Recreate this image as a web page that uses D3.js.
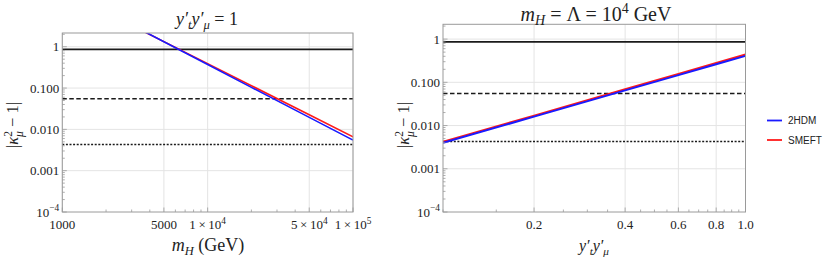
<!DOCTYPE html>
<html><head><meta charset="utf-8">
<script src="https://cdn.jsdelivr.net/npm/d3@7"></script>
<style>
body{margin:0;background:#fff;}
text{font-family:"Liberation Serif","Times New Roman",serif;fill:#222;}
.leg{font-family:"Liberation Sans",Arial,sans-serif;}
</style></head><body>
<svg id="c" width="830" height="262"></svg>
<script>
// ---- data ----
const mH = [3000, 5000, 10000, 20000, 50000, 100000];
const left2HDM  = [3.37, 1.32, 0.37, 0.104, 0.0195, 0.0055];
const leftSMEFT = [3.28, 1.33, 0.39, 0.114, 0.0225, 0.0066];
const yy = [0.1, 0.2, 0.4, 0.6, 0.8, 1.0];
const right2HDM  = [0.0040, 0.0161, 0.065, 0.147, 0.262, 0.41];
const rightSMEFT = [0.0042, 0.0170, 0.069, 0.157, 0.280, 0.44];
const bounds = [0.86, 0.055, 0.0043];   // solid, dashed, dotted
const yTicks = [1, 0.1, 0.01, 0.001, 0.0001];
const yTickLabels = ["1", "0.100", "0.010", "0.001", "10^-4"];
const leftXTicks = [1000, 5000, 10000, 50000, 100000];
const leftXTickLabels = ["1000", "5000", "1\u2009×\u200910^4", "5\u2009×\u200910^4", "1\u2009×\u200910^5"];
const rightXTicks = [0.2, 0.4, 0.6, 0.8, 1.0];
const rightXTickLabels = ["0.2", "0.4", "0.6", "0.8", "1.0"];
const seriesNames = ["2HDM", "SMEFT"];
const seriesColors = ["#1a1aff", "#ff1a1a"];

const svg = d3.select("#c");
const TF = 13;

function addLabel(sel, s, size) {
  const parts = s.split("^");
  sel.append("tspan").text(parts[0]);
  if (parts[1]) sel.append("tspan").attr("dy", -size*0.4).attr("font-size", size*0.72).text(parts[1].replace("-", "−"));
}

function panel(o) {
  const g = svg.append("g");
  const x = d3.scaleLog().domain(o.xDomain).range(o.xRange);
  const y = d3.scaleLog().domain(o.yDomain).range(o.yRange);
  const [x0, x1] = o.xRange, [y0, y1] = o.yRange;
  const cid = "clip" + o.id;
  svg.append("clipPath").attr("id", cid).append("rect")
    .attr("x", x0).attr("y", y1).attr("width", x1 - x0).attr("height", y0 - y1);
  g.selectAll(".gy").data(yTicks.slice(0, 4)).join("line")
    .attr("x1", x0).attr("x2", x1).attr("y1", d => y(d)).attr("y2", d => y(d))
    .attr("stroke", "#e4e4e4").attr("stroke-width", 1);
  g.selectAll(".gx").data(o.xTicks).join("line")
    .attr("x1", d => x(d)).attr("x2", d => x(d)).attr("y1", y1).attr("y2", y0)
    .attr("stroke", "#e4e4e4").attr("stroke-width", 1);
  const dashes = [null, "4.5,2.5", "2,1.6"];
  bounds.forEach((b, i) => {
    g.append("line").attr("x1", x0).attr("x2", x1).attr("y1", y(b)).attr("y2", y(b))
      .attr("stroke", "#1a1a1a").attr("stroke-width", i === 0 ? 1.8 : 1.5)
      .attr("stroke-dasharray", dashes[i]);
  });
  const line = d3.line().x(d => x(d[0])).y(d => y(d[1]));
  const cg = g.append("g").attr("clip-path", `url(#${cid})`);
  [o.smeft, o.hdm].forEach((ser, k) => {
    cg.append("path").datum(o.xs.map((v, i) => [v, ser[i]]))
      .attr("d", line).attr("fill", "none")
      .attr("stroke", k === 0 ? seriesColors[1] : seriesColors[0])
      .attr("stroke-width", o.lw);
  });
  g.append("rect").attr("x", x0).attr("y", y1).attr("width", x1 - x0).attr("height", y0 - y1)
    .attr("fill", "none").attr("stroke", "#9a9a9a").attr("stroke-width", 1);
  const yMinor = [];
  for (let e = -4; e <= 0; e++) for (let k = 1; k <= 9; k++) {
    const v = k * Math.pow(10, e);
    if (v >= o.yDomain[0] && v <= o.yDomain[1]) yMinor.push([v, k === 1]);
  }
  g.selectAll(".ty").data(yMinor).join("line")
    .attr("x1", x0).attr("x2", d => x0 + (d[1] ? 4.5 : 2.5))
    .attr("y1", d => y(d[0])).attr("y2", d => y(d[0]))
    .attr("stroke", "#9a9a9a").attr("stroke-width", 0.8);
  yTicks.forEach((t, i) => {
    const tx = g.append("text").attr("x", x0 - 3).attr("y", y(t) + 4.5)
      .attr("text-anchor", "end").attr("font-size", TF);
    addLabel(tx, yTickLabels[i], TF);
  });
  g.selectAll(".tx").data(o.xMinor).join("line")
    .attr("x1", d => x(d[0])).attr("x2", d => x(d[0]))
    .attr("y1", y0).attr("y2", d => y0 - (d[1] ? 4.5 : 2.5))
    .attr("stroke", "#9a9a9a").attr("stroke-width", 0.8);
  o.xTicks.forEach((t, i) => {
    const tx = g.append("text").attr("x", x(t)).attr("y", 229)
      .attr("text-anchor", "middle").attr("font-size", TF);
    addLabel(tx, o.xTickLabels[i], TF);
  });
  const yl = g.append("text").attr("transform", `translate(${o.ylabX},125) rotate(-90)`)
    .attr("text-anchor", "middle").attr("font-size", 16.5);
  yl.append("tspan").text("|");
  yl.append("tspan").attr("font-style", "italic").text("κ");
  yl.append("tspan").attr("font-size", 11.5).attr("dy", -6.5).text("2");
  yl.append("tspan").attr("font-size", 11.5).attr("dx", -6).attr("dy", 11).attr("font-style", "italic").text("μ");
  yl.append("tspan").attr("dy", -4.5).text(" − 1|");
  return {x, y, g};
}

function yyText(sel, size) {
  sel.append("tspan").attr("font-style", "italic").text("y′");
  sel.append("tspan").attr("font-style", "italic").attr("font-size", size*0.7).attr("dy", size*0.22).text("t");
  sel.append("tspan").attr("font-style", "italic").attr("dy", -size*0.22).text("y′");
  sel.append("tspan").attr("font-style", "italic").attr("font-size", size*0.7).attr("dy", size*0.22).text("μ");
}

const lMinor = [];
for (let e = 3; e <= 5; e++) for (let k = 1; k <= 9; k++) {
  const v = k * Math.pow(10, e);
  if (v <= 100000) lMinor.push([v, k === 1 || k === 5]);
}
const rMinor = [];
for (let k = 10; k <= 100; k += 5) rMinor.push([k / 100, [20, 40, 60, 80, 100].includes(k)]);

panel({id: "L", xDomain: [1000, 100000], xRange: [62.3, 353], yDomain: [1e-4, 2.15], yRange: [212, 33],
  xs: mH, hdm: left2HDM, smeft: leftSMEFT, xTicks: leftXTicks, xTickLabels: leftXTickLabels,
  xMinor: lMinor, ylabX: 18, lw: 1.6});
panel({id: "R", xDomain: [0.1, 1], xRange: [443, 745.5], yDomain: [1e-4, 2.2], yRange: [212, 24.3],
  xs: yy, hdm: right2HDM, smeft: rightSMEFT, xTicks: rightXTicks, xTickLabels: rightXTickLabels,
  xMinor: rMinor, ylabX: 409, lw: 2});

// titles
const t1 = svg.append("text").attr("x", 207).attr("y", 25).attr("text-anchor", "middle").attr("font-size", 18);
yyText(t1, 18);
t1.append("tspan").attr("dy", -18*0.22).text(" = 1");

const t2 = svg.append("text").attr("x", 596).attr("y", 21).attr("text-anchor", "middle").attr("font-size", 20);
t2.append("tspan").attr("font-style", "italic").text("m");
t2.append("tspan").attr("font-style", "italic").attr("font-size", 14).attr("dy", 4).text("H");
t2.append("tspan").attr("dy", -4).text(" = Λ = 10");
t2.append("tspan").attr("font-size", 14).attr("dy", -8).text("4");
t2.append("tspan").attr("dy", 8).text(" GeV");

// x axis labels
const xl1 = svg.append("text").attr("x", 208).attr("y", 251).attr("text-anchor", "middle").attr("font-size", 18);
xl1.append("tspan").attr("font-style", "italic").text("m");
xl1.append("tspan").attr("font-style", "italic").attr("font-size", 12.5).attr("dy", 4).text("H");
xl1.append("tspan").attr("dy", -4).text(" (GeV)");

const xl2 = svg.append("text").attr("x", 594).attr("y", 251).attr("text-anchor", "middle").attr("font-size", 16);
yyText(xl2, 16);

// legend
const leg = svg.append("g");
seriesNames.forEach((n, i) => {
  const yv = 120.5 + i * 19.5;
  leg.append("line").attr("x1", 767).attr("x2", 782).attr("y1", yv).attr("y2", yv)
    .attr("stroke", seriesColors[i]).attr("stroke-width", 1.8);
  leg.append("text").attr("class", "leg").attr("x", 788).attr("y", yv + 3.5)
    .attr("font-size", 10).text(n);
});
</script>
</body></html>
